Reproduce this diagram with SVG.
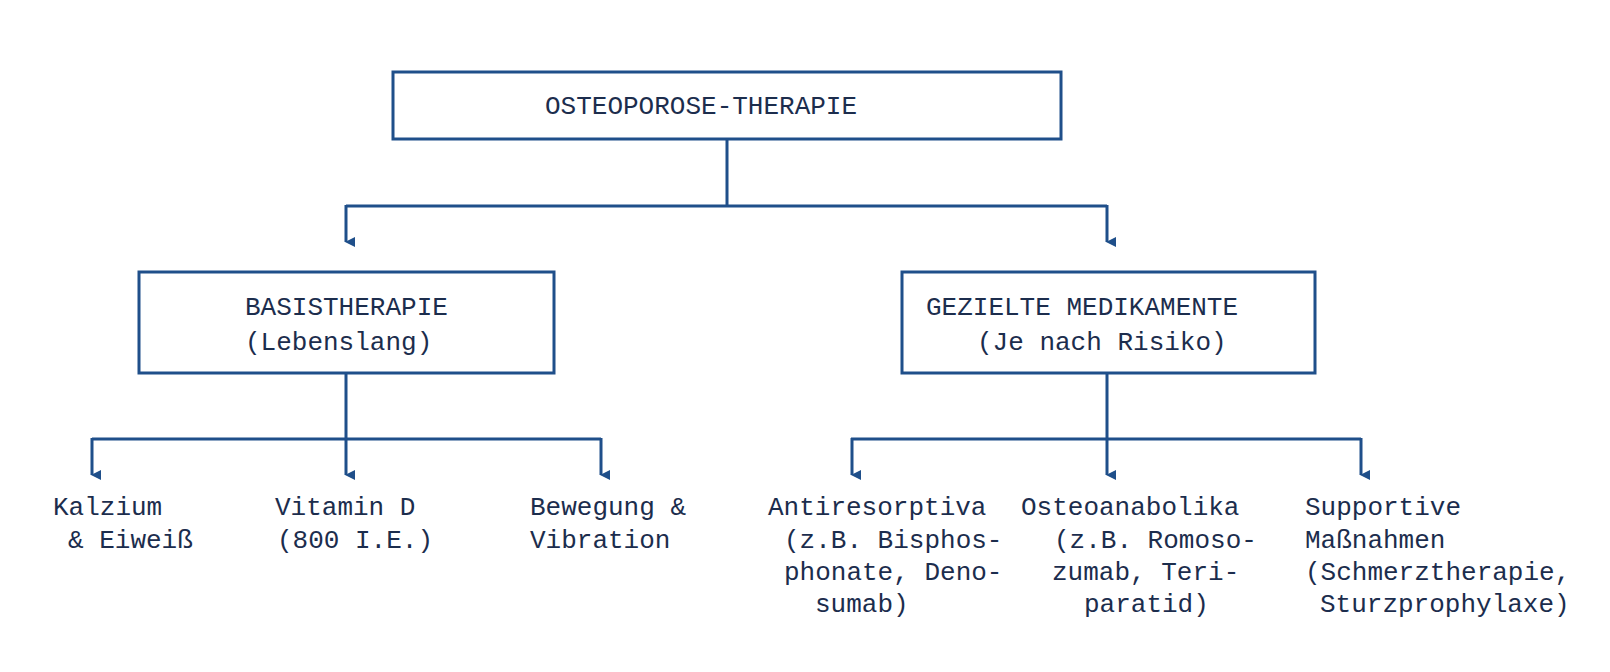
<svg xmlns="http://www.w3.org/2000/svg" width="1610" height="672" viewBox="0 0 1610 672">
<style>
.box{fill:#fff;stroke:#1f4f8a;stroke-width:3}
.ln{fill:none;stroke:#1f4f8a;stroke-width:3}
text{font-family:"Liberation Mono","DejaVu Sans Mono",monospace;font-size:26px;fill:#1c2d4d}
</style>
<defs><marker id="a" markerWidth="10" markerHeight="10" refX="5" refY="9" orient="auto" markerUnits="userSpaceOnUse" viewBox="0 0 10 10"><path d="M0,0 L10,0 L5,10 z" fill="#1f4f8a"/></marker></defs>
<rect width="1610" height="672" fill="#fff"/>
<g id="connectors">
<path class="ln" d="M727,140 V206 M346,206 H1107" />
<path class="ln" d="M346,205 V242" marker-end="url(#a)"/>
<path class="ln" d="M1107,205 V242" marker-end="url(#a)"/>
<path class="ln" d="M346,373 V439 M92,439 H601 M851,439 H1361 M1107,373 V439"/>
<path class="ln" d="M92,438 V475" marker-end="url(#a)"/>
<path class="ln" d="M346,438 V475" marker-end="url(#a)"/>
<path class="ln" d="M601,438 V475" marker-end="url(#a)"/>
<path class="ln" d="M852,438 V475" marker-end="url(#a)"/>
<path class="ln" d="M1107,438 V475" marker-end="url(#a)"/>
<path class="ln" d="M1361,438 V475" marker-end="url(#a)"/>
</g>
<g id="root"><rect class="box" x="393" y="72" width="668" height="67"/><text x="545" y="114">OSTEOPOROSE-THERAPIE</text></g>
<g id="basis"><rect class="box" x="139" y="272" width="415" height="101"/><text x="245" y="315">BASISTHERAPIE</text><text x="245" y="350">(Lebenslang)</text></g>
<g id="gezielt"><rect class="box" x="902" y="272" width="413" height="101"/><text x="926" y="315">GEZIELTE MEDIKAMENTE</text><text x="977" y="350">(Je nach Risiko)</text></g>
<g id="kalzium"><text x="53" y="515">Kalzium</text><text x="68" y="548">&amp; Eiweiß</text></g>
<g id="vitd"><text x="275" y="515">Vitamin D</text><text x="277" y="548">(800 I.E.)</text></g>
<g id="bewegung"><text x="530" y="515">Bewegung &amp;</text><text x="530" y="548">Vibration</text></g>
<g id="anti"><text x="768" y="515">Antiresorptiva</text><text x="784" y="548">(z.B. Bisphos-</text><text x="784" y="580">phonate, Deno-</text><text x="815" y="612">sumab)</text></g>
<g id="osteo"><text x="1021" y="515">Osteoanabolika</text><text x="1054" y="548">(z.B. Romoso-</text><text x="1052" y="580">zumab, Teri-</text><text x="1084" y="612">paratid)</text></g>
<g id="support"><text x="1305" y="515">Supportive</text><text x="1305" y="548">Maßnahmen</text><text x="1305" y="580">(Schmerztherapie,</text><text x="1320" y="612">Sturzprophylaxe)</text></g>
</svg>
